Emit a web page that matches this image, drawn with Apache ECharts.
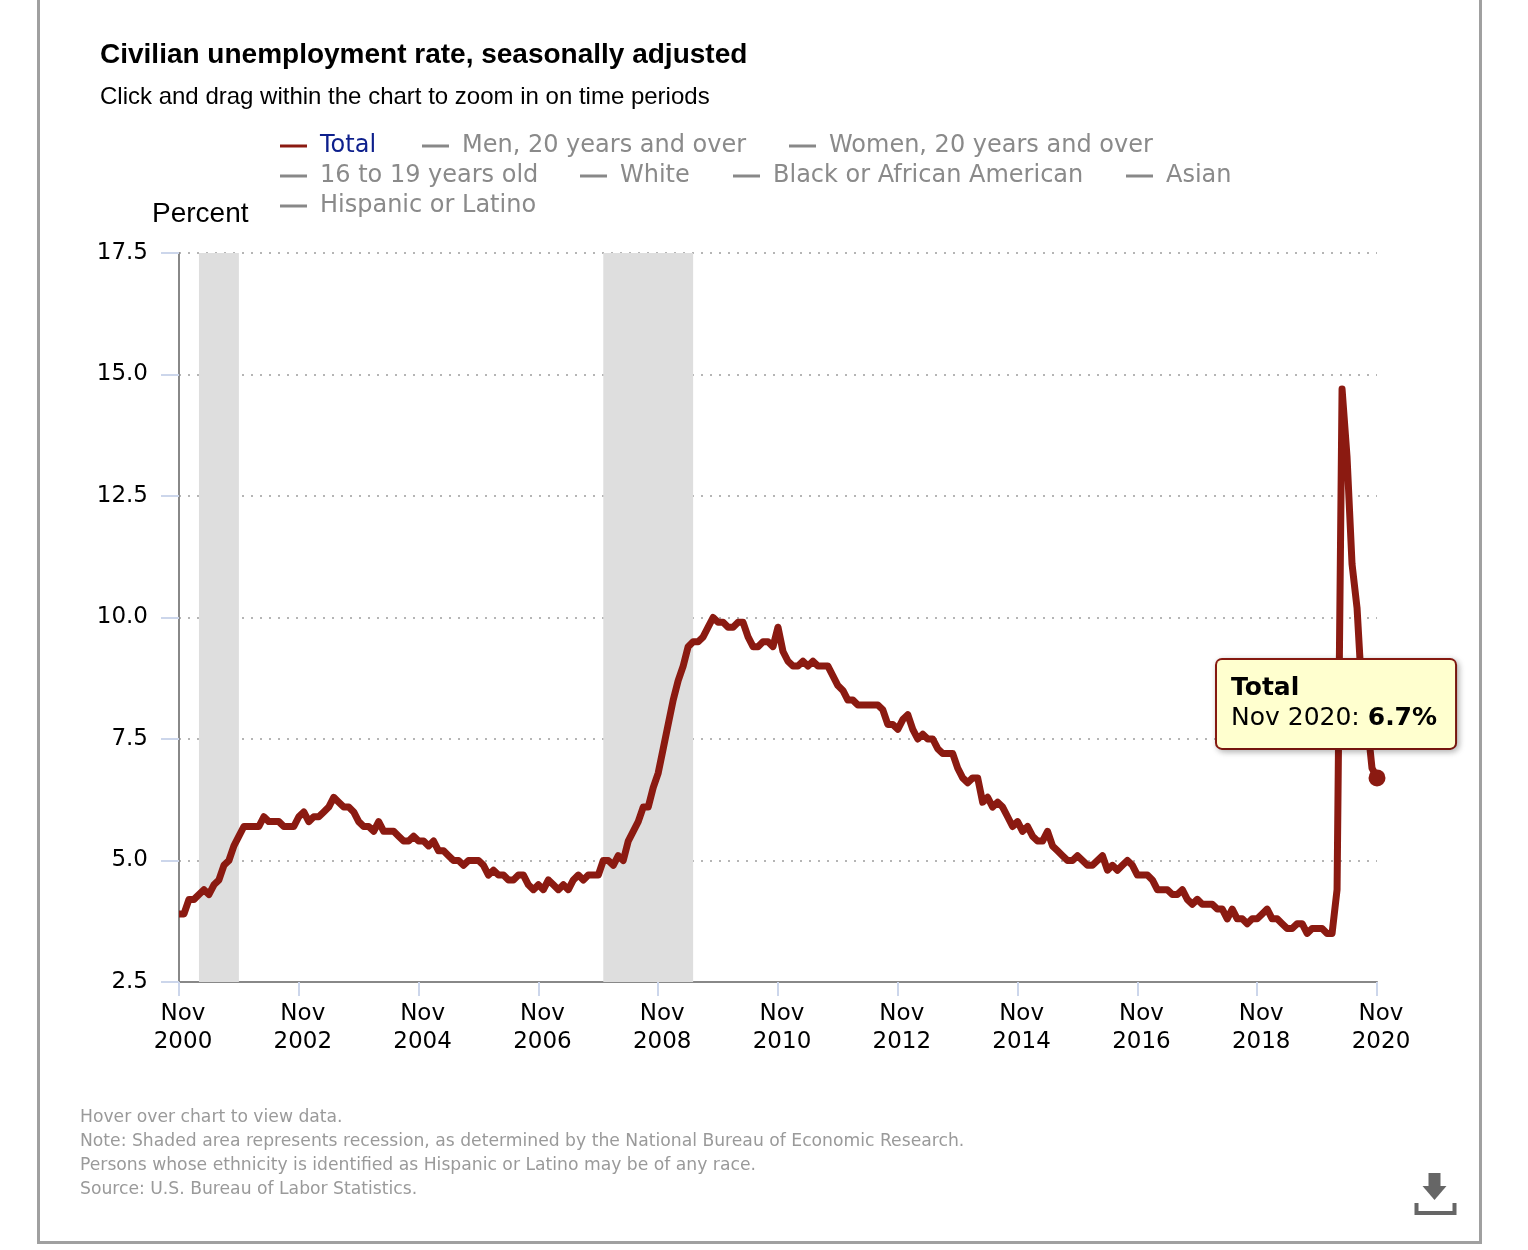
<!DOCTYPE html>
<html>
<head>
<meta charset="utf-8">
<script src="https://cdn.jsdelivr.net/npm/echarts@6/dist/echarts.min.js"></script>
<style>
html,body{margin:0;padding:0;background:#fff;}
#chart{position:absolute;left:0;top:0;width:1528px;height:1250px;}
#frame{position:absolute;left:37px;top:-3px;width:1445px;height:1247px;border:3px solid #a0a0a0;box-sizing:border-box;pointer-events:none;}
</style>
</head>
<body>
<div id="chart"></div>
<div id="frame"></div>
<script>
// ---- Data ----
const monthNames = ['Jan','Feb','Mar','Apr','May','Jun','Jul','Aug','Sep','Oct','Nov','Dec'];
const startYear = 2000, startMonth = 10; // Nov 2000
const totalRate = [
  3.9, 3.9,
  4.2, 4.2, 4.3, 4.4, 4.3, 4.5, 4.6, 4.9, 5.0, 5.3, 5.5, 5.7,
  5.7, 5.7, 5.7, 5.9, 5.8, 5.8, 5.8, 5.7, 5.7, 5.7, 5.9, 6.0,
  5.8, 5.9, 5.9, 6.0, 6.1, 6.3, 6.2, 6.1, 6.1, 6.0, 5.8, 5.7,
  5.7, 5.6, 5.8, 5.6, 5.6, 5.6, 5.5, 5.4, 5.4, 5.5, 5.4, 5.4,
  5.3, 5.4, 5.2, 5.2, 5.1, 5.0, 5.0, 4.9, 5.0, 5.0, 5.0, 4.9,
  4.7, 4.8, 4.7, 4.7, 4.6, 4.6, 4.7, 4.7, 4.5, 4.4, 4.5, 4.4,
  4.6, 4.5, 4.4, 4.5, 4.4, 4.6, 4.7, 4.6, 4.7, 4.7, 4.7, 5.0,
  5.0, 4.9, 5.1, 5.0, 5.4, 5.6, 5.8, 6.1, 6.1, 6.5, 6.8, 7.3,
  7.8, 8.3, 8.7, 9.0, 9.4, 9.5, 9.5, 9.6, 9.8, 10.0, 9.9, 9.9,
  9.8, 9.8, 9.9, 9.9, 9.6, 9.4, 9.4, 9.5, 9.5, 9.4, 9.8, 9.3,
  9.1, 9.0, 9.0, 9.1, 9.0, 9.1, 9.0, 9.0, 9.0, 8.8, 8.6, 8.5,
  8.3, 8.3, 8.2, 8.2, 8.2, 8.2, 8.2, 8.1, 7.8, 7.8, 7.7, 7.9,
  8.0, 7.7, 7.5, 7.6, 7.5, 7.5, 7.3, 7.2, 7.2, 7.2, 6.9, 6.7,
  6.6, 6.7, 6.7, 6.2, 6.3, 6.1, 6.2, 6.1, 5.9, 5.7, 5.8, 5.6,
  5.7, 5.5, 5.4, 5.4, 5.6, 5.3, 5.2, 5.1, 5.0, 5.0, 5.1, 5.0,
  4.9, 4.9, 5.0, 5.1, 4.8, 4.9, 4.8, 4.9, 5.0, 4.9, 4.7, 4.7,
  4.7, 4.6, 4.4, 4.4, 4.4, 4.3, 4.3, 4.4, 4.2, 4.1, 4.2, 4.1,
  4.1, 4.1, 4.0, 4.0, 3.8, 4.0, 3.8, 3.8, 3.7, 3.8, 3.8, 3.9,
  4.0, 3.8, 3.8, 3.7, 3.6, 3.6, 3.7, 3.7, 3.5, 3.6, 3.6, 3.6,
  3.5, 3.5, 4.4, 14.7, 13.3, 11.1, 10.2, 8.4, 7.9, 6.9, 6.7
];
const months = totalRate.map((_, i) => {
  const m = (startMonth + i) % 12;
  const y = startYear + Math.floor((startMonth + i) / 12);
  return monthNames[m] + ' ' + y;
});
const recessions = [['Mar 2001', 'Nov 2001'], ['Dec 2007', 'Jun 2009']];
const yTicks = { min: 2.5, max: 17.5, interval: 2.5 };
const legendItems = [
  'Total', 'Men, 20 years and over', 'Women, 20 years and over',
  '16 to 19 years old', 'White', 'Black or African American', 'Asian',
  'Hispanic or Latino'
];
const legendPos = [
  [275, 129], [417, 129], [784, 129],
  [275, 159], [575, 159], [728, 159], [1121, 159],
  [275, 189]
];
const footnotes = [
  'Hover over chart to view data.',
  'Note: Shaded area represents recession, as determined by the National Bureau of Economic Research.',
  'Persons whose ethnicity is identified as Hispanic or Latino may be of any race.',
  'Source: U.S. Bureau of Labor Statistics.'
];
const lastIdx = totalRate.length - 1;

// ---- Chart ----
const chart = echarts.init(document.getElementById('chart'), null, { renderer: 'canvas' });
const tickFont = 'DejaVu Sans, Verdana, sans-serif';
const RED = '#8b1a11';

const legends = legendItems.map((name, i) => ({
  left: legendPos[i][0], top: legendPos[i][1],
  data: [name], orient: 'horizontal',
  icon: 'rect', itemWidth: 27, itemHeight: 3,
  selectedMode: false,
  textStyle: {
    fontFamily: tickFont, fontSize: 24,
    color: i === 0 ? '#0d1f8c' : '#8a8a8a',
    padding: [0, 0, 0, 8]
  }
}));

const series = [{
  name: 'Total', type: 'line',
  data: totalRate, symbol: 'none', smooth: false,
  color: RED,
  lineStyle: { color: RED, width: 7, join: 'round' },
  z: 3,
  markArea: {
    silent: true,
    z: 1,
    itemStyle: { color: '#dedede' },
    data: recessions.map(r => [{ xAxis: r[0] }, { xAxis: r[1] }])
  },
  markPoint: {
    z: 20,
    symbol: 'circle', symbolSize: 17,
    itemStyle: { color: RED },
    data: [{ coord: [months[lastIdx], totalRate[lastIdx]], value: totalRate[lastIdx] }],
    label: {
      show: true, position: 'inside', offset: [-160, -74],
      formatter: () => '{t|Total}\n{n|' + months[lastIdx] + ': }{v|' + totalRate[lastIdx].toFixed(1) + '%}',
      backgroundColor: '#ffffcf', borderColor: RED, borderWidth: 2, borderRadius: 5,
      padding: [14, 18, 14, 14],
      shadowColor: 'rgba(0,0,0,0.25)', shadowBlur: 6, shadowOffsetX: 2, shadowOffsetY: 2,
      align: 'left',
      rich: {
        t: { fontFamily: tickFont, fontSize: 25, fontWeight: 'bold', color: '#000', lineHeight: 30 },
        n: { fontFamily: tickFont, fontSize: 25, color: '#000', lineHeight: 30 },
        v: { fontFamily: tickFont, fontSize: 25, fontWeight: 'bold', color: '#000', lineHeight: 30 }
      }
    }
  }
}];
legendItems.slice(1).forEach(name => {
  series.push({ name, type: 'line', data: [], color: '#888888', lineStyle: { color: '#888888' }, symbol: 'none' });
});

const option = {
  animation: false,
  backgroundColor: '#ffffff',
  title: [
    { text: 'Civilian unemployment rate, seasonally adjusted', left: 95, top: 36,
      textStyle: { fontFamily: 'Liberation Sans, Arial, sans-serif', fontWeight: 'bold', fontSize: 28, color: '#000' } },
    { text: 'Click and drag within the chart to zoom in on time periods', left: 95, top: 80,
      textStyle: { fontFamily: 'Liberation Sans, Arial, sans-serif', fontWeight: 'normal', fontSize: 24, color: '#000' } },
    { text: 'Percent', left: 147, top: 195,
      textStyle: { fontFamily: 'Liberation Sans, Arial, sans-serif', fontWeight: 'normal', fontSize: 28, color: '#000' } },
    { text: footnotes.join('\n'), left: 75, top: 1101,
      textStyle: { fontFamily: tickFont, fontWeight: 'normal', fontSize: 17.2, color: '#9a9a9a', lineHeight: 24 } }
  ],
  legend: legends,
  grid: { left: 179, right: 151, top: 253, bottom: 268, containLabel: false },
  xAxis: {
    type: 'category', data: months, boundaryGap: false,
    axisLine: { show: true, lineStyle: { color: '#888', width: 2 } },
    axisTick: { show: true, length: 14, lineStyle: { color: '#ccd6eb', width: 2 },
      interval: (i) => i % 24 === 0 },
    axisLabel: {
      interval: (i) => i % 24 === 0,
      formatter: (v) => v.replace(' ', '\n'),
      fontFamily: tickFont, fontSize: 23, color: '#000', lineHeight: 28, margin: 18,
      padding: [0, 0, 0, 8]
    },
    splitLine: { show: false }
  },
  yAxis: {
    type: 'value', min: yTicks.min, max: yTicks.max, interval: yTicks.interval,
    axisLine: { show: true, lineStyle: { color: '#888', width: 2 } },
    axisTick: { show: true, length: 18, lineStyle: { color: '#ccd6eb', width: 2 } },
    axisLabel: { formatter: (v) => v.toFixed(1), fontFamily: tickFont, fontSize: 23, color: '#000', margin: 31 },
    splitLine: { show: true, lineStyle: { color: '#b5b5b5', type: [2, 7], width: 2 } }
  },
  graphic: [
    { type: 'group', left: 1414, top: 1173, children: [
      { type: 'rect', shape: { x: 14, y: 0, width: 12, height: 14 }, style: { fill: '#666' } },
      { type: 'polygon', shape: { points: [[8, 13], [32, 13], [20, 27]] }, style: { fill: '#666' } },
      { type: 'polyline', shape: { points: [[2, 30], [2, 40], [40, 40], [40, 30]] }, style: { stroke: '#666', lineWidth: 4, fill: null } }
    ]}
  ],
  series
};
chart.setOption(option);
</script>
</body>
</html>
